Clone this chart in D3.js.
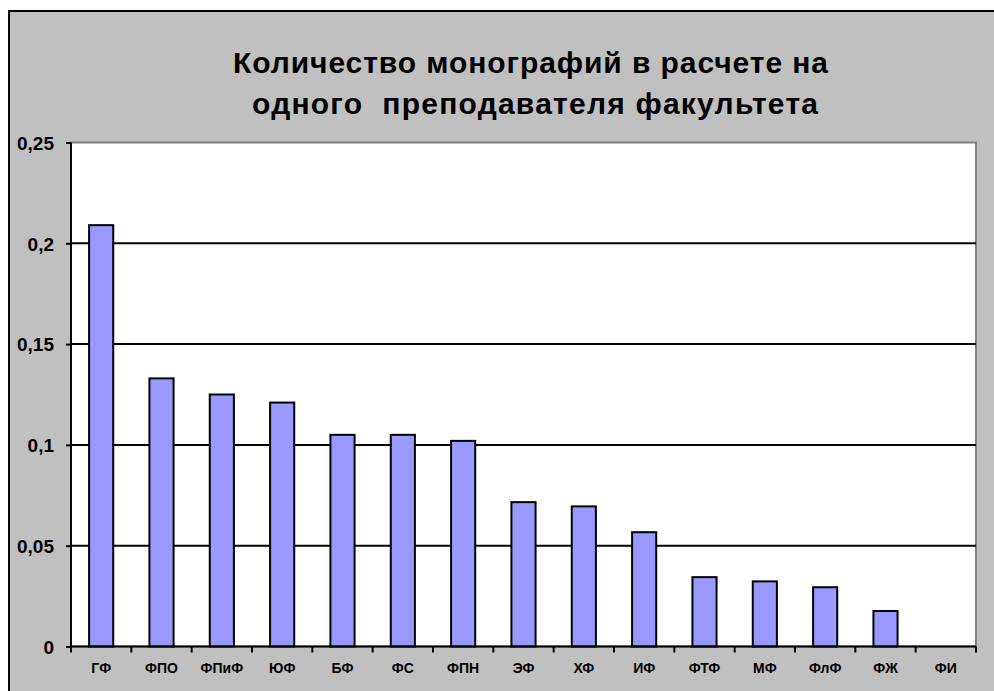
<!DOCTYPE html>
<html>
<head>
<meta charset="utf-8">
<script src="https://d3js.org/d3.v7.min.js"></script>
<style>
  body { margin: 0; background: #fff; }
  text { font-family: "Liberation Sans", Arial, sans-serif; font-weight: bold; fill: #000; }
</style>
</head>
<body>
<svg id="chart" width="994" height="691"></svg>
<script>
    const faculties = ["ГФ", "ФПО", "ФПиФ", "ЮФ", "БФ", "ФС", "ФПН", "ЭФ", "ХФ", "ИФ", "ФТФ", "МФ", "ФлФ", "ФЖ", "ФИ"];
    const perTeacher = [0.209, 0.133, 0.125, 0.121, 0.105, 0.105, 0.102, 0.0716, 0.0695, 0.0567, 0.0344, 0.0323, 0.0294, 0.0176, 0];
    const yTicks = [0, 0.05, 0.1, 0.15, 0.2, 0.25];
    const titleLines = ["Количество монографий в расчете на", "одного  преподавателя факультета"];

    const svg = d3.select("#chart");

    // chart area (grey, black frame)
    svg.append("rect")
        .attr("x", 9).attr("y", 11)
        .attr("width", 1000).attr("height", 700)
        .attr("fill", "#c0c0c0")
        .attr("stroke", "#000")
        .attr("stroke-width", 2);

    const plot = {left: 71, right: 976, top: 142.5, bottom: 646.5};

    const x = d3.scaleBand()
        .domain(faculties)
        .range([plot.left, plot.right])
        .paddingInner(0.6)
        .paddingOuter(0.3);

    const band = d3.scaleBand().domain(faculties).range([plot.left, plot.right]);

    const y = d3.scaleLinear().domain([0, 0.25]).range([plot.bottom, plot.top]);

    // plot background
    svg.append("rect")
        .attr("x", plot.left).attr("y", plot.top)
        .attr("width", plot.right - plot.left).attr("height", plot.bottom - plot.top)
        .attr("fill", "#fff")
        .attr("stroke", "#808080")
        .attr("stroke-width", 2);

    // grid lines
    svg.append("g")
        .selectAll("line")
        .data(yTicks.filter(d => d > 0 && d < 0.25))
        .join("line")
        .attr("x1", plot.left).attr("x2", plot.right)
        .attr("y1", d => y(d)).attr("y2", d => y(d))
        .attr("stroke", "#000")
        .attr("stroke-width", 2);

    // bars
    svg.append("g")
        .selectAll("rect")
        .data(perTeacher)
        .join("rect")
        .attr("x", (d, i) => x(faculties[i]))
        .attr("width", x.bandwidth())
        .attr("y", d => y(d))
        .attr("height", d => y(0) - y(d))
        .attr("fill", "#9999ff")
        .attr("stroke", d => d > 0 ? "#000" : "none")
        .attr("stroke-width", 2);

    // y axis
    const yAxis = svg.append("g")
        .attr("transform", "translate(" + plot.left + ",0)")
        .call(d3.axisLeft(y).tickValues(yTicks).tickSize(5).tickPadding(12)
            .tickFormat(d => d3.format("")(d).replace(".", ",")));
    yAxis.select(".domain").attr("stroke-width", 2).attr("d", "M0," + plot.top + "V" + plot.bottom);
    yAxis.selectAll(".tick line").attr("stroke-width", 2);
    yAxis.selectAll(".tick text").style("font-size", "19px").attr("dy", "0.36em");

    // x axis: ticks on category boundaries
    const xAxis = svg.append("g")
        .attr("transform", "translate(0," + plot.bottom + ")");
    xAxis.append("line")
        .attr("x1", plot.left).attr("x2", plot.right)
        .attr("stroke", "#000").attr("stroke-width", 2);
    xAxis.selectAll(".bt")
        .data(faculties)
        .join("line")
        .attr("class", "bt")
        .attr("x1", d => band(d)).attr("x2", d => band(d))
        .attr("y1", 0).attr("y2", 6)
        .attr("stroke", "#000").attr("stroke-width", 2);
    xAxis.append("line")
        .attr("x1", plot.right).attr("x2", plot.right)
        .attr("y1", 0).attr("y2", 6)
        .attr("stroke", "#000").attr("stroke-width", 2);
    xAxis.selectAll("text")
        .data(faculties)
        .join("text")
        .attr("x", d => band(d) + band.bandwidth() / 2)
        .attr("y", 26.5)
        .attr("text-anchor", "middle")
        .style("font-size", "14px")
        .text(d => d);

    // title
    const titleX = [530.5, 535];
    const titleW = [595, 566];
    svg.append("g")
        .selectAll("text")
        .data(titleLines)
        .join("text")
        .attr("x", (d, i) => titleX[i] - titleW[i] / 2)
        .attr("y", (d, i) => 73 + i * 41)
        .attr("textLength", (d, i) => titleW[i])
        .attr("lengthAdjust", "spacing")
        .style("white-space", "pre")
        .style("font-size", "30px")
        .text(d => d);
</script>
</body>
</html>
